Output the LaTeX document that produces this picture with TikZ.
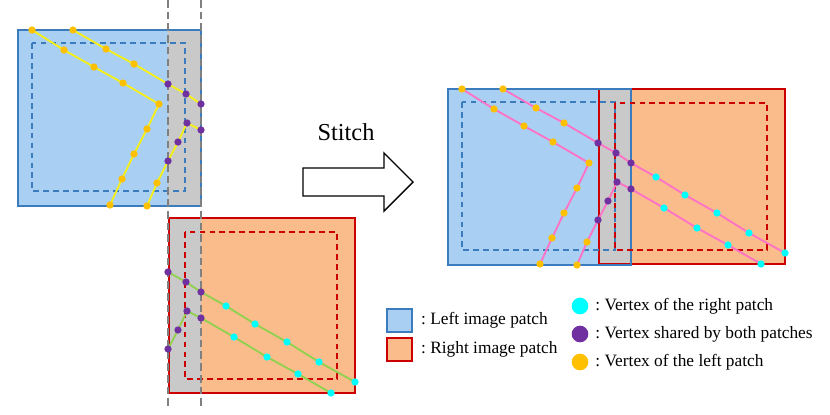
\documentclass[tikz,border=0pt]{standalone}
\usepackage{fontspec}
\setmainfont{Liberation Serif}
\usetikzlibrary{positioning}
\definecolor{PatchBlue}{HTML}{A9CFF2}
\definecolor{PatchBlueLine}{HTML}{3A7CBE}
\definecolor{PatchOrange}{HTML}{FBBC8C}
\definecolor{PatchRed}{HTML}{CC0000}
\definecolor{OverlapGray}{HTML}{C9C9C9}
\definecolor{CutGray}{HTML}{808080}
\definecolor{EdgeYellow}{HTML}{F4EF1A}
\definecolor{EdgeGreen}{HTML}{92D050}
\definecolor{EdgePink}{HTML}{FF73C6}
\definecolor{VertLeft}{HTML}{FFC000}
\definecolor{VertShared}{HTML}{7030A0}
\definecolor{VertRight}{HTML}{00FFFF}

% mesh vertices, given in the frame of the left patch
\newcommand{\meshpoints}{%
  \coordinate (a1) at (32,30);   \coordinate (a2) at (64,50);
  \coordinate (a3) at (94,67);   \coordinate (a4) at (123,83);
  \coordinate (a5) at (159,104); \coordinate (a6) at (147,129);
  \coordinate (a7) at (134,154); \coordinate (a8) at (122,179);
  \coordinate (a9) at (110,205);
  \coordinate (b1) at (73,30);   \coordinate (b2) at (106,49);
  \coordinate (b3) at (134,64);  \coordinate (b4) at (168,84);
  \coordinate (b5) at (186,94);  \coordinate (b6) at (201,104);
  \coordinate (b7) at (226,118); \coordinate (b8) at (255,136);
  \coordinate (b9) at (287,154); \coordinate (b10) at (319,174);
  \coordinate (b11) at (355,194);
  \coordinate (c1) at (201,130); \coordinate (c2) at (187,123);
  \coordinate (c3) at (178,142); \coordinate (c4) at (168,161);
  \coordinate (c5) at (157,183); \coordinate (c6) at (147,206);
  \coordinate (d1) at (234,149); \coordinate (d2) at (267,169);
  \coordinate (d3) at (298,186); \coordinate (d4) at (331,205);
}

\begin{document}
\begin{tikzpicture}[
    x=0.03cm, y=-0.03cm,
    bluebox/.style={draw=PatchBlueLine,line width=1.6pt},
    redbox/.style={draw=PatchRed,line width=1.6pt},
    bluedash/.style={draw=PatchBlueLine,line width=1.6pt,dash pattern=on 5pt off 3.5pt},
    reddash/.style={draw=PatchRed,line width=1.6pt,dash pattern=on 5pt off 3.5pt},
    cutline/.style={draw=CutGray,line width=1.7pt,dash pattern=on 6.5pt off 3.5pt},
    edge/.style={line width=1.6pt,line join=round},
    vleft/.style={fill=VertLeft},
    vshared/.style={fill=VertShared},
    vright/.style={fill=VertRight},
    legendtext/.style={inner sep=0pt,font=\fontsize{14.8}{17}\selectfont\frenchspacing},
    legendbox/.style={minimum width=0.75cm,minimum height=0.69cm,line width=1.6pt,inner sep=0pt},
    legenddot/.style={circle,minimum size=0.5cm,inner sep=0pt}
  ]
  \useasboundingbox (0,0) rectangle (830,415);

  % left patch
  \begin{scope}[name prefix=l-]
    \meshpoints
    \fill[PatchBlue] (18,30) rectangle (201,206);
    \fill[OverlapGray] (168,30) rectangle (201,206);
    \draw[bluebox] (18,30) rectangle (201,206);
    \draw[bluedash] (32,43) rectangle (185,191);
  \end{scope}

  % right patch
  \begin{scope}[shift={(0,188)},name prefix=r-]
    \meshpoints
    \fill[PatchOrange] (169,30) rectangle (355,205);
    \fill[OverlapGray] (169,30) rectangle (201,205);
    \draw[redbox] (169,30) rectangle (355,205);
    \draw[reddash] (185,44) rectangle (337,191);
  \end{scope}

  % cut lines of the overlap
  \coordinate (cutAtop) at (168,0);
  \coordinate (cutAbot) at (168,408);
  \coordinate (cutBtop) at (201,0);
  \coordinate (cutBbot) at (201,408);
  \draw[cutline] (cutAtop) -- (cutAbot);
  \draw[cutline] (cutBtop) -- (cutBbot);

  \begin{scope}[name prefix=l-]
    \draw[edge,EdgeYellow] (a1) -- (a2) -- (a3) -- (a4) -- (a5) -- (a6) -- (a7) -- (a8) -- (a9);
    \draw[edge,EdgeYellow] (b1) -- (b2) -- (b3) -- (b4) -- (b5) -- (b6);
    \draw[edge,EdgeYellow] (c1) -- (c2) -- (c3) -- (c4) -- (c5) -- (c6);
    \foreach \p in {a1,a2,a3,a4,a5,a6,a7,a8,a9,b1,b2,b3,c5,c6}
      \fill[vleft] (\p) circle[radius=3.1pt];
    \foreach \p in {b4,b5,b6,c1,c2,c3,c4}
      \fill[vshared] (\p) circle[radius=3.1pt];
  \end{scope}

  \begin{scope}[shift={(0,188)},name prefix=r-]
    \draw[edge,EdgeGreen] (b4) -- (b5) -- (b6) -- (b7) -- (b8) -- (b9) -- (b10) -- (b11);
    \draw[edge,EdgeGreen] (c4) -- (c3) -- (c2) -- (c1) -- (d1) -- (d2) -- (d3) -- (d4);
    \foreach \p in {b4,b5,b6,c1,c2,c3,c4}
      \fill[vshared] (\p) circle[radius=3.1pt];
    \foreach \p in {b7,b8,b9,b10,b11,d1,d2,d3,d4}
      \fill[vright] (\p) circle[radius=3.1pt];
  \end{scope}

  % stitch arrow
  \node[font=\fontsize{20.8}{24}\selectfont,inner sep=0pt] (stitchlabel) at (346,132) {Stitch};
  \draw[line width=1.2pt,line join=miter] (303,168) -- (384,168) -- (384,153) -- (413,182)
    -- (384,211) -- (384,196) -- (303,196) -- cycle;

  % stitched result
  \begin{scope}[shift={(430,59)},name prefix=s-]
    \meshpoints
    \fill[PatchBlue] (18,30) rectangle (201,206);
    \fill[PatchOrange] (169,30) rectangle (355,205);
    \fill[OverlapGray] (169,30) rectangle (201,205);
    \draw[redbox] (169,30) rectangle (355,205);
    \draw[bluebox] (18,30) rectangle (201,206);
    \draw[bluedash] (32,43) rectangle (185,191);
    \draw[reddash] (185,44) rectangle (337,191);
    \draw[edge,EdgePink] (a1) -- (a2) -- (a3) -- (a4) -- (a5) -- (a6) -- (a7) -- (a8) -- (a9);
    \draw[edge,EdgePink] (b1) -- (b2) -- (b3) -- (b4) -- (b5) -- (b6) -- (b7) -- (b8) -- (b9) -- (b10) -- (b11);
    \draw[edge,EdgePink] (c6) -- (c5) -- (c4) -- (c3) -- (c2) -- (c1) -- (d1) -- (d2) -- (d3) -- (d4);
    \foreach \p in {a1,a2,a3,a4,a5,a6,a7,a8,a9,b1,b2,b3,c5,c6}
      \fill[vleft] (\p) circle[radius=3.1pt];
    \foreach \p in {b4,b5,b6,c1,c2,c3,c4}
      \fill[vshared] (\p) circle[radius=3.1pt];
    \foreach \p in {b7,b8,b9,b10,b11,d1,d2,d3,d4}
      \fill[vright] (\p) circle[radius=3.1pt];
  \end{scope}

  % legend
  \node[legendbox,fill=PatchBlue,draw=PatchBlueLine] (legleft) at (399.5,320.5) {};
  \node[legendbox,fill=PatchOrange,draw=PatchRed] (legright) at (399.5,349.5) {};
  \node[legendtext,anchor=west,right=0.24cm of legleft] (legleftT) {: Left image patch};
  \node[legendtext,anchor=west,right=0.24cm of legright] (legrightT) {: Right image patch};
  \node[legenddot,fill=VertRight] (dotright) at (580,306) {};
  \node[legenddot,fill=VertShared] (dotshared) at (580,334) {};
  \node[legenddot,fill=VertLeft] (dotleft) at (580,362) {};
  \node[legendtext,right=0.2cm of dotright] (dotrightT) {: Vertex of the right patch};
  \node[legendtext,right=0.2cm of dotshared] (dotsharedT) {: Vertex shared by both patches};
  \node[legendtext,right=0.2cm of dotleft] (dotleftT) {: Vertex of the left patch};
\end{tikzpicture}
\end{document}
